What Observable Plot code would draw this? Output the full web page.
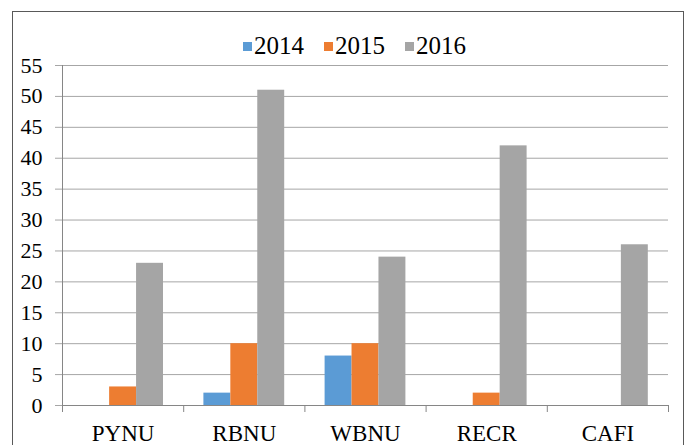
<!DOCTYPE html>
<html>
<head>
<meta charset="utf-8">
<script src="https://cdn.jsdelivr.net/npm/d3@7"></script>
<script src="https://cdn.jsdelivr.net/npm/@observablehq/plot@0.6"></script>
<style>
  html, body { margin: 0; padding: 0; background: #fff; }
  body { width: 688px; height: 445px; position: relative; overflow: hidden; font-family: "Liberation Serif", "Times New Roman", serif; }
  #frame { position: absolute; left: 12px; top: 11px; width: 670px; height: 470px; border: 1px solid #595959; }
  #chart { position: absolute; left: 0; top: 0; }
  #chart svg text { font-family: "Liberation Serif", "Times New Roman", serif !important; fill: #000; }
  #chart svg g[aria-label="y-axis tick label"] text { font-size: 22px !important; }
  #chart svg g[aria-label="x-axis tick label"] text { font-size: 23px !important; }
  #legend { position: absolute; left: 243px; top: 32px; }
  #legend .lg-swatches { display: flex !important; align-items: center; min-height: 0 !important; margin: 0 !important; font-family: "Liberation Serif", "Times New Roman", serif !important; font-size: 25px !important; line-height: normal; color: #000; }
  #legend .lg-swatch { display: inline-flex; align-items: center; margin: 0 20px 0 0 !important; }
  #legend .lg-swatch > svg { margin-right: 2px !important; }
</style>
</head>
<body>
<div id="frame"></div>
<div id="chart"></div>
<div id="legend"></div>
<script>
const categories = ["PYNU", "RBNU", "WBNU", "RECR", "CAFI"];
const years = ["2014", "2015", "2016"];
const values2014 = [0, 2, 8, 0, 0];
const values2015 = [3, 10, 10, 2, 0];
const values2016 = [23, 51, 24, 42, 26];
const yTicks = [0, 5, 10, 15, 20, 25, 30, 35, 40, 45, 50, 55];
const colors = ["#5B9BD5", "#ED7D31", "#A5A5A5"];

const seriesValues = [values2014, values2015, values2016];
const table = [];
categories.forEach((cat, i) => {
  years.forEach((yr, j) => {
    table.push({cat, catIndex: i, year: yr, yearIndex: j, value: seriesValues[j][i]});
  });
});

// Excel-style clustered columns: gap width 150% of a bar
const outer = 0.75;
const slots = years.length + 2 * outer;
const boundaries = d3.range(categories.length + 1);
const centers = categories.map((c, i) => i + 0.5);

const gridColor = "#a6a6a6";
const axisColor = "#868686";

const chart = Plot.plot({
  width: 688,
  height: 445,
  marginTop: 65,
  marginBottom: 40,
  marginLeft: 62,
  marginRight: 20,
  style: {fontFamily: "'Liberation Serif', 'Times New Roman', serif", background: "transparent", color: "#000", overflow: "visible"},
  x: {type: "linear", domain: [0, categories.length], axis: null},
  y: {domain: [0, 55], axis: null},
  color: {domain: years, range: colors},
  marks: [
    Plot.gridY(yTicks, {stroke: gridColor, strokeOpacity: 1}),
    Plot.axisY(yTicks, {tickSize: 7, tickPadding: 13, stroke: gridColor, strokeOpacity: 1, fontSize: 22, label: null, tickFormat: d => String(d)}),
    Plot.rect(table, {
      x1: d => d.catIndex + (outer + d.yearIndex) / slots,
      x2: d => d.catIndex + (outer + d.yearIndex + 1) / slots,
      y1: 0,
      y2: "value",
      fill: "year"
    }),
    Plot.ruleX([0], {y1: 0, y2: 55, stroke: axisColor}),
    Plot.ruleY([0], {stroke: axisColor}),
    Plot.axisX(boundaries, {tickSize: 7, tickFormat: () => "", stroke: axisColor, strokeOpacity: 1, label: null}),
    Plot.axisX(centers, {tickSize: 0, tickPadding: 19, fontSize: 23, label: null, tickFormat: d => categories[Math.round(d - 0.5)]})
  ]
});
document.getElementById("chart").appendChild(chart);

const legend = Plot.legend({
  color: {domain: years, range: colors},
  className: "lg",
  swatchSize: 9
});
document.getElementById("legend").appendChild(legend);
</script>
</body>
</html>
